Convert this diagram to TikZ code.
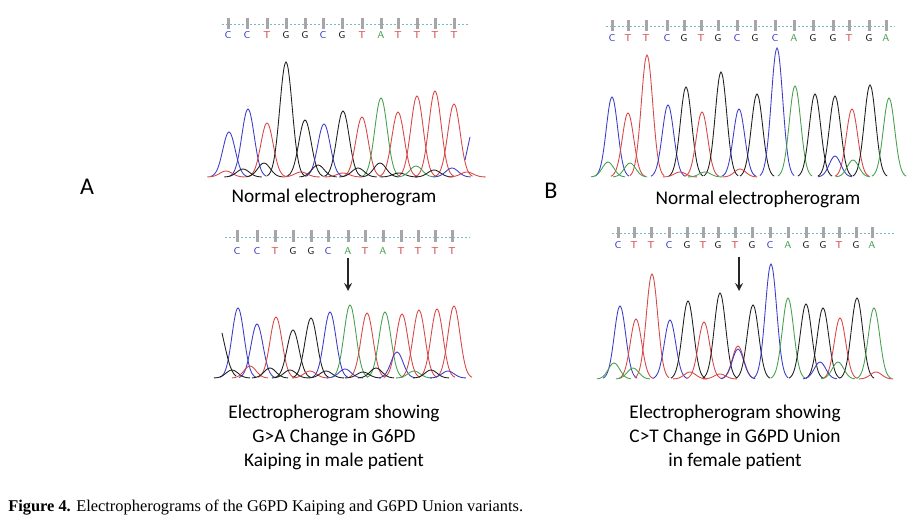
\documentclass[tikz,border=0pt]{standalone}
\usepackage{fontspec}
\setmainfont{Liberation Serif}
\newfontfamily\calfont{Carlito}
\definecolor{cA}{RGB}{70,160,80}
\definecolor{cC}{RGB}{60,60,200}
\definecolor{cG}{RGB}{30,30,30}
\definecolor{cT}{RGB}{215,70,70}
\definecolor{lineC}{RGB}{110,190,200}
\newcommand{\pk}[5]{\edef\pkc{#1}\edef\pkb{#2}\edef\pkt{#3}\draw[#4,line width=0.65pt] plot[smooth,domain={\pkc-3*#5}:{\pkc+3*#5},samples=21] (\x,{\pkb-(\pkb-\pkt)*exp(-((\x-\pkc)*(\x-\pkc))/(2*#5*#5))});}
\begin{document}
\begin{tikzpicture}[x=0.75pt,y=-0.75pt,
  lbl/.style={font=\calfont\fontsize{14.5}{17}\selectfont,inner sep=0pt},
  base/.style={font=\sffamily\fontsize{7.5}{8}\selectfont,inner sep=0pt},
  tick/.style={fill=gray!70,draw=none},
  seqline/.style={lineC,line width=0.7pt,dash pattern=on 1.5pt off 1.5pt}]
\useasboundingbox (0,0) rectangle (909,523);
\fill[white] (0,0) rectangle (909,523);
% ---- Panel A top
\draw[seqline] (222,24) -- (470,24);
\foreach \px/\l/\c [count=\i] in {228/C/cC,247/C/cC,267/T/cT,286/G/cG,305/G/cG,323/C/cC,342/G/cG,362/T/cT,381/A/cA,398/T/cT,417/T/cT,435/T/cT,454/T/cT}{
  \fill[tick] (\px-1.5,18) rectangle (\px+1.5,29);
  \node[base,text=\c] (a\i) at (\px,35) {\l};}
\foreach \px/\t/\c in {229/132/cC,248/109/cC,267/123/cT,286/62/cG,305/120/cG,324/124/cC,343/111/cG,362/117/cT,381/98/cA,398/112/cT,417/96/cT,435/91/cT,454/104/cT,
  226/171/cT,243/169/cG,264/163/cG,301/172/cT,318/165/cG,343/173/cT,358/168/cG,380/163/cG,399/173/cG,416/166/cA,434/170/cG,452/168/cC,467/172/cT}{\pk{\px}{177}{\t}{\c}{6.2}}
\draw[cC,line width=0.65pt] (465,160) .. controls (468,148) .. (470,137);
\node[lbl] (n1) at (334,197) {Normal electropherogram};
\node[font=\calfont\fontsize{18}{20}\selectfont] (lA) at (87,187) {A};
% ---- Panel A bottom
\draw[seqline] (225,237) -- (470,237);
\foreach \px/\l/\c [count=\i] in {237/C/cC,257/C/cC,275/T/cT,293/G/cG,311/G/cG,328/C/cC,348/A/cA,365/T/cT,383/A/cA,401/T/cT,418/T/cT,435/T/cT,452/T/cT}{
  \fill[tick] (\px-1.5,230) rectangle (\px+1.5,242);
  \node[base,text=\c] (b\i) at (\px,251) {\l};}
\coordinate (arA1) at (348,258);
\coordinate (arA2) at (348,291);
\draw[-stealth,line width=1.6pt,gray!30!black] (arA1) -- (arA2);
\foreach \px/\t/\c in {238/308/cC,257/324/cC,276/317/cT,293/330/cG,311/318/cG,330/312/cC,350/305/cA,367/313/cT,385/312/cA,402/314/cT,419/310/cT,437/309/cT,454/306/cT,
  232/370/cG,250/366/cT,270/368/cG,290/370/cG,310/371/cT,326/371/cG,345/369/cC,363/372/cG,376/368/cG,397/352/cC,414/371/cA,431/370/cG,448/371/cC}{\pk{\px}{378}{\t}{\c}{6}}
\draw[cG,line width=0.65pt] (222,333) .. controls (227,355) and (230,372) .. (236,376);
\node[lbl,align=center] (t1) at (334,437) {Electropherogram showing\\[1pt]G>A Change in G6PD\\[1pt]Kaiping in male patient};
% ---- Panel B top
\draw[seqline] (606,26) -- (895,26);
\foreach \px/\l/\c [count=\i] in {612/C/cC,628/T/cT,646/T/cT,667/C/cC,684/G/cG,701/T/cT,718/G/cG,737/C/cC,755/G/cG,775/C/cC,794/A/cA,813/G/cG,833/G/cG,849/T/cT,869/G/cG,886/A/cA}{
  \fill[tick] (\px-1.5,20) rectangle (\px+1.5,31);
  \node[base,text=\c] (c\i) at (\px,38) {\l};}
\foreach \px/\t/\c in {612/97/cC,628/113/cT,647/55/cT,668/105/cC,686/87/cG,702/112/cT,721/72/cG,739/109/cC,757/94/cG,777/48/cC,795/86/cA,815/94/cG,835/96/cG,852/109/cT,870/85/cG,889/98/cA,
  608/162/cA,630/163/cA,680/172/cT,705/172/cA,740/169/cT,835/156/cC,853/160/cA}{\pk{\px}{177}{\t}{\c}{5.7}}
\node[lbl] (n2) at (758,199) {Normal electropherogram};
\node[font=\calfont\fontsize{18}{20}\selectfont] (lB) at (551,191) {B};
% ---- Panel B bottom
\draw[seqline] (612,233) -- (895,233);
\foreach \px/\l/\c [count=\i] in {618/C/cC,634/T/cT,651/T/cT,669/C/cC,687/G/cG,703/T/cT,718/G/cG,735/T/cT,752/G/cG,770/C/cC,788/A/cA,806/G/cG,823/G/cG,839/T/cT,856/G/cG,872/A/cA}{
  \fill[tick] (\px-1.5,227) rectangle (\px+1.5,238);
  \node[base,text=\c] (d\i) at (\px,245) {\l};}
\coordinate (arB1) at (739,257);
\coordinate (arB2) at (739,291);
\draw[-stealth,line width=1.6pt,gray!30!black] (arB1) -- (arB2);
\foreach \px/\t/\c in {620/306/cC,636/319/cT,652/274/cT,670/320/cC,688/301/cG,704/322/cT,720/293/cG,738/346/cT,738/349/cC,753/305/cG,771/264/cC,788/298/cA,806/304/cG,823/308/cG,840/318/cT,857/298/cG,874/308/cA,
  614/363/cA,633/368/cA,690/372/cT,720/374/cT,820/362/cC,838/362/cA,876/372/cT}{\pk{\px}{379}{\t}{\c}{5.7}}
\node[lbl,align=center] (t2) at (735,437) {Electropherogram showing\\[1pt]C>T Change in G6PD Union\\[1pt]in female patient};
% ---- caption
\node[anchor=west,font=\fontsize{12.3}{14}\selectfont,inner sep=0pt] (cap) at (8,508) {\textbf{Figure 4.} Electropherograms of the G6PD Kaiping and G6PD Union variants.};
\end{tikzpicture}
\end{document}
